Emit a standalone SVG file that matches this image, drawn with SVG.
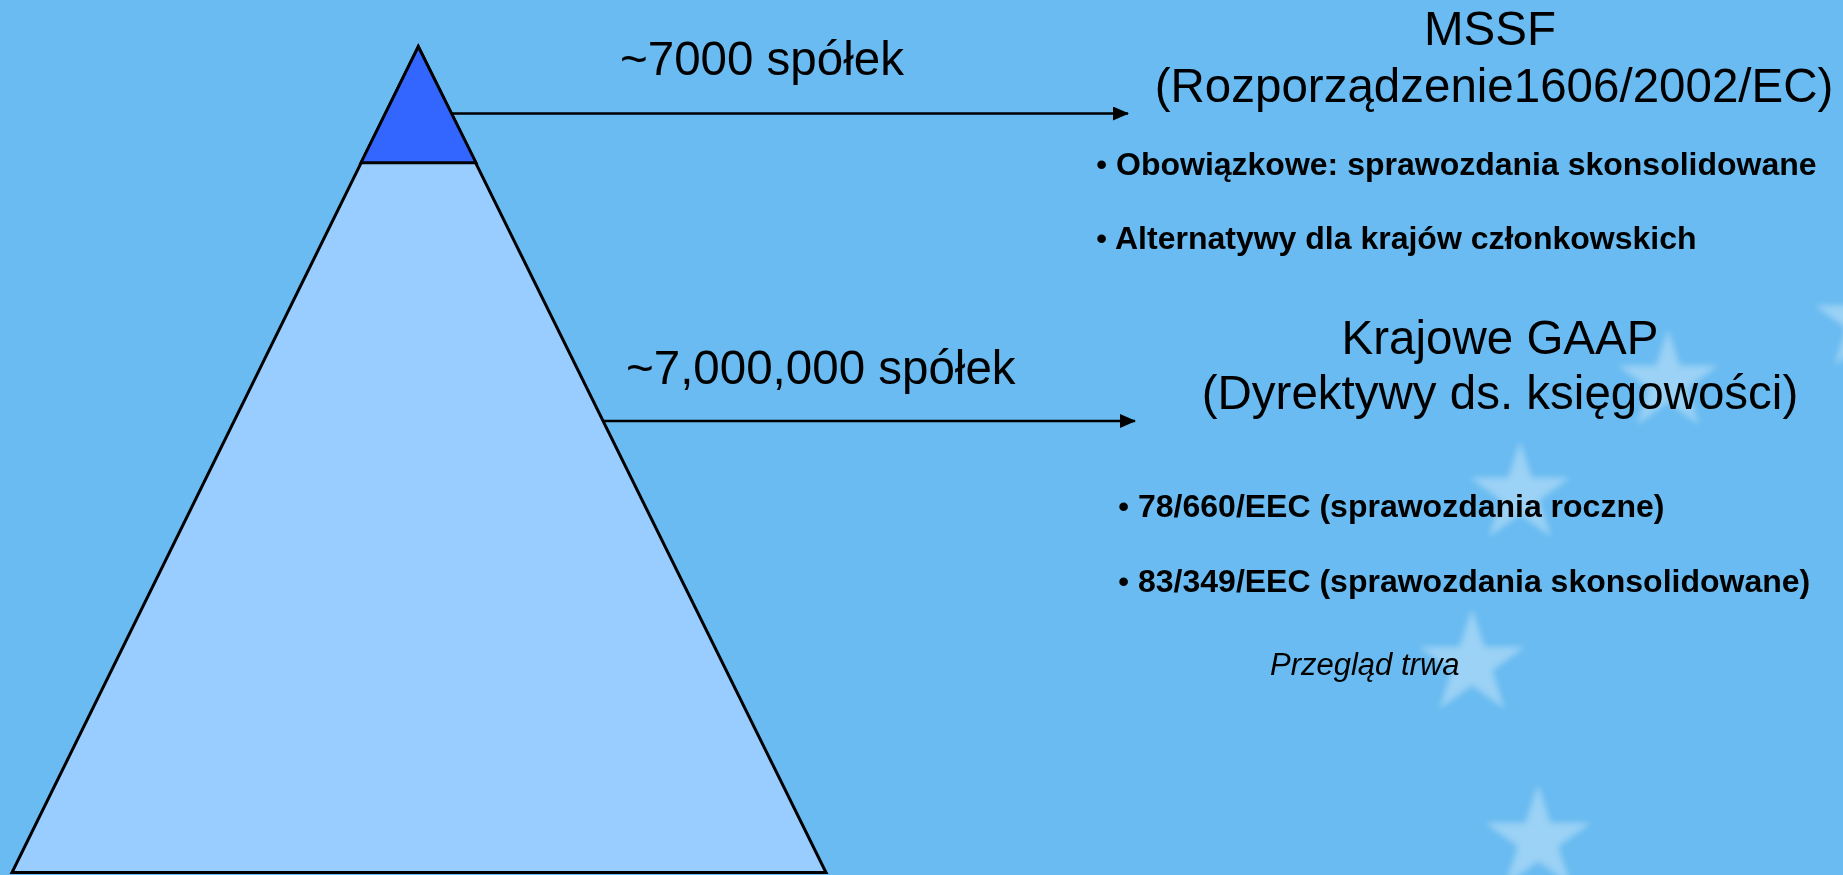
<svg xmlns="http://www.w3.org/2000/svg" width="1843" height="875" viewBox="0 0 1843 875">
<defs>
<style>
.big{font-family:"Liberation Sans",Arial,sans-serif;font-size:47.5px;fill:#000}
.bold{font-family:"Liberation Sans",Arial,sans-serif;font-size:32px;font-weight:bold;fill:#000}
.bul{font-family:"Liberation Sans",Arial,sans-serif;font-size:32px;fill:#000}
.ital{font-family:"Liberation Sans",Arial,sans-serif;font-size:31px;font-style:italic;fill:#000}
.star{fill:#ffffff}
.conn{stroke:#000;stroke-width:2.6;fill:none}
</style>
<filter id="soft" x="0" y="0" width="1843" height="875" filterUnits="userSpaceOnUse"><feGaussianBlur stdDeviation="3"/></filter>
<marker id="arr" viewBox="0 0 16 14" refX="15" refY="7" markerWidth="16" markerHeight="14" markerUnits="userSpaceOnUse" orient="auto">
<path d="M0,0 L16,7 L0,14 Z" fill="#000"/>
</marker>
<path id="st" d="M0,-1 L0.2245,-0.309 L0.951,-0.309 L0.3633,0.118 L0.5878,0.809 L0,0.382 L-0.5878,0.809 L-0.3633,0.118 L-0.951,-0.309 L-0.2245,-0.309 Z"/>
</defs>
<rect id="background" x="0" y="0" width="1843" height="875" fill="#69BBF1"/>
<g id="stars" filter="url(#soft)" opacity="0.34">
<use href="#st" class="star" transform="translate(1668,382) scale(53)"/>
<use href="#st" class="star" transform="translate(1520,494) scale(53)"/>
<use href="#st" class="star" transform="translate(1472,664) scale(56)"/>
<use href="#st" class="star" transform="translate(1538,840) scale(56)"/>
<use href="#st" class="star" transform="translate(1866,322) scale(54)"/>
</g>
<g id="pyramid">
<polygon points="418.3,46.7 12,872.5 826,872.5" fill="#99CCFF" stroke="#000" stroke-width="3" stroke-linejoin="miter"/>
</g>
<g id="pyramid-top">
<polygon points="418.3,46.7 361,162.7 476,162.7" fill="#3366FF" stroke="#000" stroke-width="3"/>
</g>
<g id="connectors">
<line class="conn" x1="451" y1="113.5" x2="1128" y2="113.5" marker-end="url(#arr)"/>
<line class="conn" x1="604" y1="421" x2="1135" y2="421" marker-end="url(#arr)"/>
</g>
<g id="label-7000">
<text class="big" x="620" y="75">~7000 spółek</text>
</g>
<g id="label-7000000">
<text class="big" x="626" y="383.5">~7,000,000 spółek</text>
</g>
<g id="mssf">
<text class="big" x="1490" y="45" text-anchor="middle">MSSF</text>
<text class="big" x="1494" y="101.5" text-anchor="middle">(Rozporządzenie1606/2002/EC)</text>
<text class="bul" x="1096" y="175">•</text>
<text class="bold" x="1116" y="175">Obowiązkowe: sprawozdania skonsolidowane</text>
<text class="bul" x="1096" y="248.5">•</text>
<text class="bold" x="1115" y="248.5">Alternatywy dla krajów członkowskich</text>
</g>
<g id="gaap">
<text class="big" x="1500" y="354" text-anchor="middle">Krajowe GAAP</text>
<text class="big" x="1500" y="408.5" text-anchor="middle">(Dyrektywy ds. księgowości)</text>
<text class="bul" x="1118" y="516.5">•</text>
<text class="bold" x="1138" y="516.5">78/660/EEC (sprawozdania roczne)</text>
<text class="bul" x="1118" y="591.5">•</text>
<text class="bold" x="1138" y="591.5">83/349/EEC (sprawozdania skonsolidowane)</text>
<text class="ital" x="1270" y="675">Przegląd trwa</text>
</g>
</svg>
